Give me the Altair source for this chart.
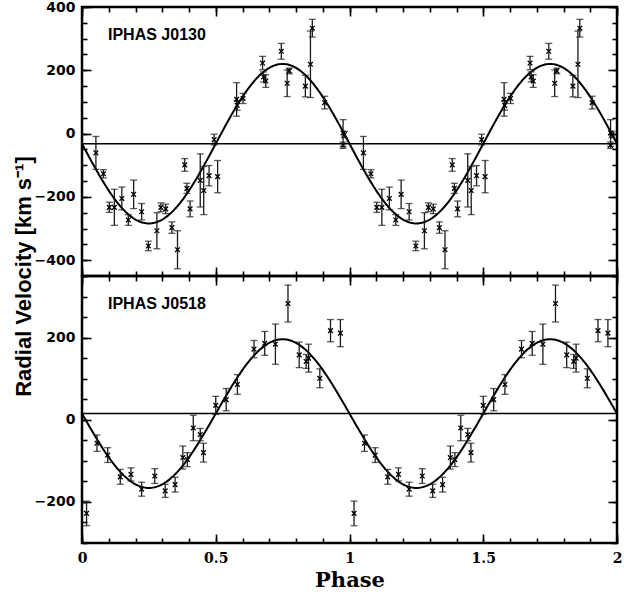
import numpy as np
import pandas as pd
import altair as alt

# ---------------- data ----------------
# IPHAS J0130 (top panel), phases 0-1 (repeated for 1-2)
j0130_phase = [0.052, 0.080, 0.102, 0.121, 0.149, 0.173, 0.193, 0.223, 0.248, 0.280,
               0.295, 0.313, 0.336, 0.357, 0.384, 0.392, 0.404, 0.442, 0.455, 0.475,
               0.494, 0.507, 0.578, 0.580, 0.602, 0.675, 0.679, 0.687, 0.745, 0.767,
               0.775, 0.835, 0.854, 0.861, 0.907, 0.976, 0.976, 0.981]
j0130_vel = [-61, -127, -233, -233, -205, -273, -192, -247, -355, -307,
             -233, -238, -297, -367, -99, -173, -238, -148, -180, -133,
             -19, -136, 108, 89, 111, 223, 179, 166, 260, 159,
             198, 150, 219, 333, 98, 2, -37, -3]
j0130_err = [52, 13, 16, 57, 36, 17, 45, 26, 15, 57,
             14, 15, 18, 60, 20, 16, 25, 84, 76, 32,
             17, 51, 53, 15, 16, 21, 16, 20, 25, 42,
             9, 34, 105, 28, 20, 42, 10, 10]
j0130_gamma = -32   # systemic velocity (horizontal line)
j0130_K = 252       # semi-amplitude of fitted sine

# IPHAS J0518 (bottom panel)
j0518_phase = [0.017, 0.056, 0.096, 0.143, 0.183, 0.223, 0.272, 0.311, 0.348, 0.377,
               0.394, 0.416, 0.442, 0.454, 0.500, 0.539, 0.581, 0.643, 0.683, 0.723,
               0.770, 0.812, 0.838, 0.847, 0.889, 0.929, 0.966]
j0518_vel = [-228, -57, -86, -139, -133, -169, -137, -173, -158, -92,
             -97, -20, -36, -80, 35, 49, 86, 172, 186, 184,
             283, 158, 142, 150, 101, 217, 211]
j0518_err = [30, 20, 18, 18, 16, 17, 18, 16, 18, 28,
             17, 31, 15, 23, 22, 27, 24, 21, 29, 49,
             45, 31, 17, 34, 23, 27, 33]
j0518_gamma = 15
j0518_K = 181

x_major = [0, 0.5, 1, 1.5, 2]
x_minor = [round(0.1 * i, 1) for i in range(21)]
top_y_major = [-400, -200, 0, 200, 400]
top_y_minor = list(range(-450, 401, 50))
bot_y_major = [-200, 0, 200]
bot_y_minor = list(range(-300, 351, 50))

W = 535
LAB_SANS = "DejaVu Sans"
LAB_SERIF = "DejaVu Serif"


def points_df(ph, v, e):
    d = pd.DataFrame({"phase": ph, "v": v, "err": e})
    d2 = d.copy()
    d2["phase"] = d2["phase"] + 1
    d = pd.concat([d, d2], ignore_index=True)
    d["lo"] = d["v"] - d["err"]
    d["hi"] = d["v"] + d["err"]
    return d


def curve_df(gamma, K):
    ph = np.linspace(0, 2, 401)
    return pd.DataFrame({"phase": ph, "v": gamma - K * np.sin(2 * np.pi * ph)})


def tick_axis(orient, values, size, labels=False, **kw):
    base = dict(orient=orient, values=values, tickSize=size, offset=-size,
                domain=False, grid=False, labels=labels, tickColor="black",
                tickWidth=1.6, title=None)
    base.update(kw)
    return alt.Axis(**base)


def panel(name, pts, crv, gamma, ydom, ymaj, ymin, H, bottom_labels, ytitle):
    xs = alt.Scale(domain=[0, 2], nice=False, zero=False)
    ys = alt.Scale(domain=ydom, nice=False, zero=False)

    xb_major_kw = {}
    if bottom_labels:
        xb_major_kw = dict(labels=True, format="~r", labelFlush=False,
                           labelFont=LAB_SERIF, labelFontSize=14, labelFontWeight="bold",
                           labelColor="black", labelPadding=8,
                           title="Phase", titleFont=LAB_SERIF, titleFontSize=21,
                           titleFontWeight="bold", titleColor="black",
                           titleX=W / 2, titleY=46, titleBaseline="middle",
                           titleAlign="center")
    yl_major_kw = dict(labels=True, format="d", labelFlush=False,
                       labelFont=LAB_SANS, labelFontSize=14, labelFontWeight="bold",
                       labelColor="black", labelPadding=7)
    if ytitle:
        yl_major_kw.update(dict(title="Radial Velocity [km s\u207b\u00b9]",
                                titleFont="Liberation Sans", titleFontSize=22,
                                titleFontWeight="bold", titleColor="black",
                                titleAngle=270, titleX=-68, titleY=H,
                                titleAlign="center", titleBaseline="middle"))

    ax_xb_maj = tick_axis("bottom", x_major, 9, **xb_major_kw)
    ax_xb_min = tick_axis("bottom", x_minor, 5)
    ax_xt_maj = tick_axis("top", x_major, 9)
    ax_xt_min = tick_axis("top", x_minor, 5)
    ax_yl_maj = tick_axis("left", ymaj, 9, **yl_major_kw)
    ax_yl_min = tick_axis("left", ymin, 5)
    ax_yr_maj = tick_axis("right", ymaj, 9)
    ax_yr_min = tick_axis("right", ymin, 5)

    gline = alt.Chart(pd.DataFrame({"g": [gamma]})).mark_rule(
        color="black", strokeWidth=1.5).encode(
        y=alt.Y("g:Q", scale=ys, axis=None))

    curve = alt.Chart(crv).mark_line(color="black", strokeWidth=2, clip=True).encode(
        x=alt.X("phase:Q", scale=xs, axis=ax_xb_maj),
        y=alt.Y("v:Q", scale=ys, axis=ax_yl_maj))

    bars = alt.Chart(pts).mark_rule(color="#1a1a1a", strokeWidth=1.3).encode(
        x=alt.X("phase:Q", scale=xs, axis=ax_xb_min),
        y=alt.Y("lo:Q", scale=ys, axis=ax_yl_min),
        y2="hi:Q")

    cap_lo = alt.Chart(pts).mark_tick(color="#1a1a1a", orient="horizontal",
                                       size=7, thickness=1.3).encode(
        x=alt.X("phase:Q", scale=xs, axis=ax_xt_maj),
        y=alt.Y("lo:Q", scale=ys, axis=ax_yr_maj))

    cap_hi = alt.Chart(pts).mark_tick(color="#1a1a1a", orient="horizontal",
                                       size=7, thickness=1.3).encode(
        x=alt.X("phase:Q", scale=xs, axis=ax_xt_min),
        y=alt.Y("hi:Q", scale=ys, axis=ax_yr_min))

    marks = alt.Chart(pts).mark_point(
        shape="M-1,-1L1,1M-1,1L1,-1", size=22, filled=False,
        color="black", strokeWidth=1.3, opacity=1).encode(
        x=alt.X("phase:Q", scale=xs, axis=None),
        y=alt.Y("v:Q", scale=ys, axis=None))

    label = alt.Chart(pd.DataFrame({"t": [name]})).mark_text(
        align="left", baseline="middle", font="Liberation Sans", fontSize=16,
        fontWeight="bold", color="black").encode(
        text="t:N", x=alt.value(26), y=alt.value(28))

    return alt.layer(gline, curve, bars, cap_lo, cap_hi, marks, label).resolve_axis(
        x="independent", y="independent").properties(width=W, height=H)


top = panel("IPHAS J0130", points_df(j0130_phase, j0130_vel, j0130_err),
            curve_df(j0130_gamma, j0130_K), j0130_gamma, [-450, 400],
            top_y_major, top_y_minor, 269, False, True)
bottom = panel("IPHAS J0518", points_df(j0518_phase, j0518_vel, j0518_err),
               curve_df(j0518_gamma, j0518_K), j0518_gamma, [-300, 350],
               bot_y_major, bot_y_minor, 267, True, False)

chart = alt.vconcat(top, bottom, spacing=0, bounds="flush").configure_view(
    stroke="black", strokeWidth=2.5).properties(
    padding={"left": 10, "top": -2, "right": 0, "bottom": 0},
    background="white")

chart.save("out.html", embed_options={"renderer": "svg", "actions": False})
